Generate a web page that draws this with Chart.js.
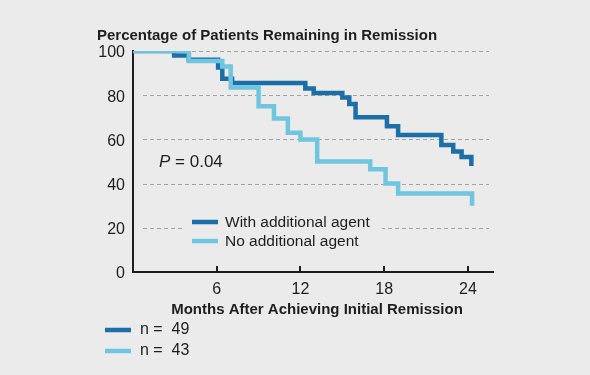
<!DOCTYPE html>
<html lang="en">
<head>
    <meta charset="UTF-8">
    <title>Remission</title>
    <script src="https://cdn.jsdelivr.net/npm/chart.js"></script>
    <style>
        body { margin: 0; background: #ebebeb; }
        canvas { display: block; }
    </style>
</head>
<body>
    <canvas id="kmChart" width="590" height="375"></canvas>
<script>
    // values (months, % in remission)
    let withAgentMonths = [0, 2.95, 4.0, 6.1, 6.4, 7.1, 12.35, 12.95, 15.0, 15.5, 15.95, 18.2, 19.0, 22.1, 22.95, 23.55, 24.25];
    let withAgentPct    = [100, 98, 96, 92.5, 87.5, 85.5, 83, 81, 79, 76, 70, 66, 62, 57.5, 54.5, 52, 48];
    let noAgentMonths   = [0, 4.0, 6.4, 7.0, 9.0, 10.1, 11.1, 12.0, 13.2, 17.0, 18.1, 19.0, 24.3];
    let noAgentPct      = [100, 95.5, 93, 83.5, 75, 69.5, 63, 60, 50, 46.5, 40, 35.5, 30];
    let xTicks = [6, 12, 18, 24];
    let yTicks = [0, 20, 40, 60, 80, 100];
    let seriesNames = ["With additional agent", "No additional agent"];
    let seriesCounts = ["n =  49", "n =  43"];

    const bg = "#ebebeb";
    const darkBlue = "#1b6fa6";
    const lightBlue = "#6fc6de";
    const ink = "#1e1e1e";
    const sans = "'Liberation Sans', Arial, sans-serif";

    function toPoints(xs, ys) {
        return xs.map((x, i) => ({ x: x, y: ys[i] }));
    }

    const overlay = {
        id: "overlay",
        beforeDatasetsDraw(chart) {
            let ctx = chart.ctx, a = chart.chartArea, y = chart.scales.y;
            ctx.save();
            // dashed grid lines, inset from the axis
            ctx.strokeStyle = "#a3a3a3";
            ctx.lineWidth = 1;
            ctx.setLineDash([4, 3]);
            yTicks.filter(v => v > 0).forEach(v => {
                let py = Math.round(y.getPixelForValue(v)) + 0.5;
                ctx.beginPath();
                ctx.moveTo(a.left + 10, py);
                ctx.lineTo(a.right - 4, py);
                ctx.stroke();
            });
            ctx.setLineDash([]);

            // legend inside the plot
            ctx.fillStyle = bg;
            ctx.fillRect(182, 206, 200, 50);
            ctx.lineWidth = 4.5;
            ctx.font = "15.5px " + sans;
            ctx.textBaseline = "middle";
            [darkBlue, lightBlue].forEach((c, i) => {
                let ly = 222 + i * 19;
                ctx.strokeStyle = c;
                ctx.beginPath();
                ctx.moveTo(192, ly);
                ctx.lineTo(218, ly);
                ctx.stroke();
                ctx.fillStyle = ink;
                ctx.fillText(seriesNames[i], 225, ly + 1);
            });

            // P value
            ctx.font = "italic 17px " + sans;
            ctx.fillText("P", 159, 162);
            let pw = ctx.measureText("P").width;
            ctx.font = "17px " + sans;
            ctx.fillText(" = 0.04", 159 + pw, 162);
            ctx.restore();
        },
        afterDraw(chart) {
            let ctx = chart.ctx, a = chart.chartArea, x = chart.scales.x;
            ctx.save();
            ctx.fillStyle = ink;
            ctx.textBaseline = "middle";

            ctx.font = "bold 15px " + sans;
            ctx.textAlign = "left";
            ctx.fillText("Percentage of Patients Remaining in Remission", 97, 36);

            // short upward ticks on the x axis
            ctx.strokeStyle = ink;
            ctx.lineWidth = 2;
            xTicks.forEach(v => {
                let px = Math.round(x.getPixelForValue(v));
                ctx.beginPath();
                ctx.moveTo(px, a.bottom);
                ctx.lineTo(px, a.bottom - 6);
                ctx.stroke();
            });

            ctx.textAlign = "center";
            ctx.fillText("Months After Achieving Initial Remission", (a.left + a.right) / 2 + 4, 310);

            // group sizes under the axis title
            ctx.textAlign = "left";
            ctx.font = "16px " + sans;
            ctx.lineWidth = 4.5;
            [darkBlue, lightBlue].forEach((c, i) => {
                let ly = 330 + i * 21;
                ctx.strokeStyle = c;
                ctx.beginPath();
                ctx.moveTo(105, ly);
                ctx.lineTo(131, ly);
                ctx.stroke();
                ctx.fillText(seriesCounts[i], 140, ly);
            });
            ctx.restore();
        }
    };

    new Chart(document.getElementById("kmChart"), {
        type: "line",
        data: {
            datasets: [
                { label: seriesNames[0], data: toPoints(withAgentMonths, withAgentPct), borderColor: darkBlue, order: 2 },
                { label: seriesNames[1], data: toPoints(noAgentMonths, noAgentPct), borderColor: lightBlue, order: 1 }
            ]
        },
        options: {
            responsive: false,
            animation: false,
            elements: {
                line: { borderWidth: 4.5, stepped: true, fill: false, tension: 0, borderCapStyle: "butt", borderJoinStyle: "miter" },
                point: { radius: 0, hoverRadius: 0 }
            },
            layout: { padding: { top: 51, right: 97, left: 0, bottom: 0 } },
            plugins: { legend: { display: false }, tooltip: { enabled: false } },
            scales: {
                x: {
                    type: "linear",
                    min: 0,
                    max: 25.8,
                    afterFit: s => { s.height = 103; },
                    afterBuildTicks: s => { s.ticks = xTicks.map(v => ({ value: v })); },
                    grid: { display: false, drawTicks: false },
                    border: { display: true, color: ink, width: 2 },
                    ticks: { color: ink, padding: 8, font: { family: sans, size: 16 } }
                },
                y: {
                    min: 0,
                    max: 100,
                    afterFit: s => { s.width = 133; },
                    afterBuildTicks: s => { s.ticks = yTicks.map(v => ({ value: v })); },
                    grid: { display: false, drawTicks: false },
                    border: { display: true, color: ink, width: 2 },
                    ticks: { color: ink, padding: 8, labelOffset: 2, font: { family: sans, size: 16 } }
                }
            }
        },
        plugins: [overlay]
    });
</script>
</body>
</html>
